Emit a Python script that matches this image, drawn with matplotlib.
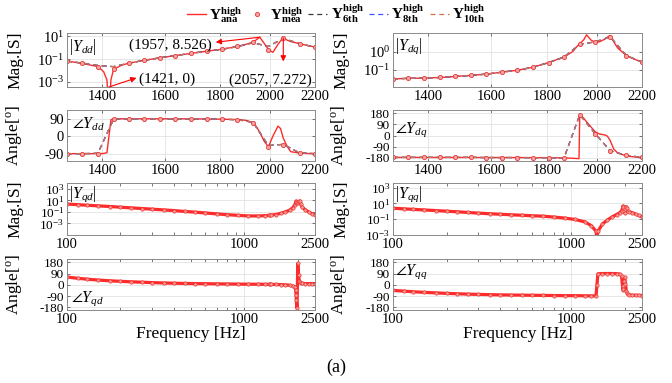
import matplotlib
matplotlib.use('Agg')
import matplotlib.pyplot as plt
import matplotlib.transforms as mtransforms
from matplotlib.ticker import NullLocator, NullFormatter, LogLocator

plt.rcParams['font.family'] = ['Liberation Serif', 'DejaVu Serif']
plt.rcParams['mathtext.fontset'] = 'custom'
plt.rcParams['mathtext.rm'] = 'Liberation Serif'
plt.rcParams['mathtext.it'] = 'Liberation Serif:italic'
plt.rcParams['mathtext.bf'] = 'Liberation Serif:bold'
plt.rcParams['axes.unicode_minus'] = False

# ---- zoomed band 1300-2200 Hz (dd and dq) ----
f_zoom = [1300, 1343, 1388, 1405, 1415, 1421, 1427, 1435, 1460, 1483, 1532, 1583,
          1636, 1691, 1748, 1806, 1866, 1900, 1926, 1929, 1945, 1957, 1975, 1993,
          2012, 2034, 2045, 2057, 2073, 2090, 2129, 2165, 2200]
dd_mag_ana = [0.068, 0.042, 0.022, 0.008, 0.0015, 1e-6, 0.0015, 0.0126, 0.03, 0.045,
              0.08, 0.13, 0.21, 0.32, 0.5, 0.75, 1.3, 2.0, 2.9, 3.2, 5.5, 8.526, 2.5,
              0.7, 0.4, 2.0, 4.0, 7.272, 4.8, 3.5, 2.3, 1.6, 1.15]
dd_ang_ana = [-90, -90, -90, -89, -85, 0, 85, 89, 90, 90, 90, 90, 90, 90, 89, 88, 86,
              82, 72, 70, 45, 20, -25, -55, 0, 52, 40, -10, -51, -80, -87, -89, -90]
dq_mag_ana = [0.030, 0.032, 0.033, 0.034, 0.035, 0.035, 0.035, 0.036, 0.038, 0.041,
              0.047, 0.055, 0.071, 0.091, 0.135, 0.245, 0.5, 1.0, 2.6, 2.8, 4.5, 8.7,
              4.5, 3.3, 3.6, 5.0, 6.5, 8.0, 3.5, 1.6, 0.6, 0.38, 0.26]
dq_ang_ana = [-176, -176, -176, -176, -176, -176, -176, -176, -176, -176, -176, -177,
              -177, -177, -178, -178, -180, -183, -186, 168, 140, 110, 70, 30, 12, 5,
              -5, -40, -110, -140, -165, -172, -175]

f_zoom_mea = [1300, 1343, 1388, 1435, 1483, 1532, 1583, 1636, 1691, 1748, 1806, 1866,
              1929, 1993, 2057, 2129, 2200]
dd_mag_mea = [0.068, 0.042, 0.022, 0.0126, 0.045, 0.08, 0.13, 0.21, 0.32, 0.5, 0.75,
              1.3, 3.2, 0.7, 7.272, 2.3, 1.15]
dd_ang_mea = [-90, -90, -90, 89, 90, 90, 90, 90, 90, 89, 88, 86, 70, -55, -45, -87, -90]
dq_mag_mea = [0.030, 0.032, 0.033, 0.036, 0.041, 0.047, 0.055, 0.071, 0.091, 0.135,
              0.245, 0.5, 2.8, 3.3, 6.5, 0.6, 0.26]
dq_ang_mea = [-176, -176, -176, -176, -176, -176, -177, -177, -177, -178, -178, -180,
              168, 15, -122, -160, -175]

# vector-fitted models (6th, 8th, 10th order) evaluated at the measured points
dd_mag_fit = [0.068, 0.045, 0.028, 0.022, 0.045, 0.08, 0.13, 0.21, 0.32, 0.5, 0.75,
              1.25, 2.8, 1.3, 6.8, 2.3, 1.15]
dd_ang_fit = [-90, -90, -88, 88, 90, 90, 90, 90, 90, 89, 88, 85, 72, -48, -42, -86, -90]
dq_mag_fit = [0.030, 0.032, 0.033, 0.036, 0.041, 0.047, 0.055, 0.071, 0.091, 0.135,
              0.245, 0.5, 2.6, 3.5, 6.8, 0.6, 0.26]
dq_ang_fit = [-176, -176, -176, -176, -176, -176, -177, -177, -177, -178, -178, -180,
              168, 15, -122, -160, -175]

# ---- full band 100-2500 Hz (qd and qq) ----
f_full = [100, 115, 130, 150, 175, 200, 230, 265, 300, 350, 400, 460, 530, 600, 700,
          800, 920, 1050, 1200, 1300, 1380, 1397, 1415, 1500, 1600, 1700, 1800, 1870,
          1920, 1945, 1957, 1962, 1980, 2000, 2020, 2040, 2057, 2080, 2120, 2200, 2300,
          2400, 2500]
qd_mag = [2.3, 1.8, 1.4, 1.1, 0.85, 0.65, 0.5, 0.38, 0.3, 0.22, 0.17, 0.12, 0.09,
          0.065, 0.045, 0.033, 0.025, 0.02, 0.02, 0.022, 0.025, 0.026, 0.027, 0.035,
          0.055, 0.1, 0.2, 0.5, 1.5, 4.0, 7.5, 6.0, 4.5, 4.0, 5.0, 6.5, 7.5, 2.0, 0.6,
          0.25, 0.1, 0.05, 0.03]
qd_ang = [62, 52, 45, 38, 32, 28, 24, 21, 18, 15, 13, 11, 10, 9, 8, 7, 6, 5, 5, 4, 4,
          4, 4, 3, 2, 0, -3, -10, -15, -40, -80, -120, -185, 170, 80, 30, 20, 15, 12,
          10, 10, 10, 10]
qq_mag = [2.5, 2.1, 1.8, 1.5, 1.25, 1.05, 0.88, 0.72, 0.6, 0.5, 0.43, 0.37, 0.32,
          0.28, 0.24, 0.19, 0.14, 0.095, 0.045, 0.015, 0.003, 0.0004, 0.003, 0.025,
          0.08, 0.2, 0.4, 0.65, 1.2, 2.5, 4.8, 3.5, 1.0, 0.6, 2.0, 4.0, 2.5, 1.2, 0.9,
          0.7, 0.45, 0.3, 0.21]
qq_ang = [-44, -50, -55, -60, -64, -68, -71, -74, -76, -78, -80, -81, -82, -83, -84,
          -85, -86, -86, -87, -88, -88, 0, 88, 90, 90, 90, 89, 86, 70, -10, -40, -30,
          30, 60, 10, -45, -65, -75, -80, -82, -83, -84, -85]

zoom_ticks = [1400, 1600, 1800, 2000, 2200]
full_ticks = [100, 1000, 2500]

C_ANA = '#ff2b2b'
C_MEA = '#e53935'
C_6 = '#3a3a3a'
C_8 = '#3f51ff'
C_10 = '#d0734f'

fig = plt.figure(figsize=(6.72, 3.83), dpi=100)

cols = [(0.0997, 0.369), (0.5848, 0.3705)]
rows = [(0.7728, 0.141), (0.5796, 0.133), (0.3864, 0.1358), (0.1906, 0.133)]


def make_ax(r, c):
    x0, w = cols[c]
    y0, h = rows[r]
    ax = fig.add_axes([x0, y0, w, h])
    ax.set_xscale('log')
    ax.tick_params(direction='in', which='both', top=True, right=True,
                   labelsize=10.5, length=2.5, width=0.5, colors='#404040',
                   labelcolor='black', pad=2)
    for s in ax.spines.values():
        s.set_color('#8a8a8a')
        s.set_linewidth(0.7)
    ax.grid(True, which='major', color='#e2e2e2', lw=0.6)
    ax.set_axisbelow(True)
    return ax


def zoom_xaxis(ax):
    ax.set_xlim(1300, 2200)
    ax.xaxis.set_minor_locator(NullLocator())
    ax.set_xticks(zoom_ticks)
    ax.set_xticklabels([str(t) for t in zoom_ticks])


def full_xaxis(ax):
    ax.set_xlim(100, 2500)
    ax.set_xticks(full_ticks)
    ax.set_xticklabels([str(t) for t in full_ticks])
    ax.xaxis.set_minor_locator(LogLocator(subs=range(2, 10)))
    ax.xaxis.set_minor_formatter(NullFormatter())
    ax.tick_params(axis='y', labelsize=9.5)


def zoom_plot(ax, ana, mea, fit):
    h_ana, = ax.plot(f_zoom, ana, color=C_ANA, lw=1.0)
    h6, = ax.plot(f_zoom_mea, fit, color=C_6, lw=0.9, ls=(0, (4, 3)))
    h8, = ax.plot(f_zoom_mea, fit, color=C_8, lw=0.9, ls=(0, (4, 3)))
    h10, = ax.plot(f_zoom_mea, fit, color=C_10, lw=0.9, ls=(0, (4, 3)))
    h_mea, = ax.plot(f_zoom_mea, mea, 'o', ms=3.0, mfc='#f7a3a3', mec=C_MEA, mew=0.6)
    return [h_ana, h_mea, h6, h8, h10]


def full_plot(ax, vals):
    ax.plot(f_full, vals, color=C_10, lw=0.9, ls=(0, (4, 3)))
    ax.plot(f_full, vals, color=C_ANA, lw=2.3)
    ax.plot(f_full, vals, 'o', ms=2.4, mfc='#ff9a9a', mec=C_MEA, mew=0.5)


def ylab(ax, text):
    ax.set_ylabel(text, fontsize=12.5, labelpad=0)
    ax.yaxis.set_label_coords(-0.175, 0.5)


# |Y_dd|
ax = make_ax(0, 0)
handles = zoom_plot(ax, dd_mag_ana, dd_mag_mea, dd_mag_fit)
ax.set_yscale('log')
ax.set_ylim(10 ** -3.45, 10 ** 1.3)
ax.set_yticks([1e-3, 1e-1, 1e1])
ax.yaxis.set_minor_locator(NullLocator())
zoom_xaxis(ax)
ylab(ax, 'Mag.[S]')
ax.text(0.01, 0.93, r'$|Y_{dd}|$', transform=ax.transAxes, fontsize=11.5, va='top')
arr = dict(arrowstyle='-|>', color='red', lw=0.8, mutation_scale=8, shrinkA=0, shrinkB=0)
ax.annotate('', xy=(0.6, 0.83), xycoords='axes fraction',
            xytext=(1957, 8.526), textcoords='data', arrowprops=arr)
ax.text(0.415, 0.78, '(1957, 8.526)', transform=ax.transAxes, fontsize=11,
        ha='center', va='center')
bt = mtransforms.blended_transform_factory(ax.transData, ax.transAxes)
ax.annotate('', xy=(0.28, 0.17), xycoords='axes fraction',
            xytext=(1421, 0.0), textcoords=bt, arrowprops=arr)
ax.text(0.405, 0.15, '(1421, 0)', transform=ax.transAxes, fontsize=11,
        ha='center', va='center')
ax.annotate('', xy=(2057, 10 ** -1.2), xycoords='data',
            xytext=(2057, 7.272), textcoords='data', arrowprops=arr)
ax.text(0.82, 0.13, '(2057, 7.272)', transform=ax.transAxes, fontsize=11,
        ha='center', va='center')

# |Y_dq|
ax = make_ax(0, 1)
zoom_plot(ax, dq_mag_ana, dq_mag_mea, dq_mag_fit)
ax.set_yscale('log')
ax.set_ylim(0.0105, 11)
ax.set_yticks([1e-1, 1e0])
ax.yaxis.set_minor_locator(NullLocator())
zoom_xaxis(ax)
ylab(ax, 'Mag.[S]')
ax.text(0.01, 0.93, r'$|Y_{dq}|$', transform=ax.transAxes, fontsize=11.5, va='top')

# angle Y_dd
ax = make_ax(1, 0)
zoom_plot(ax, dd_ang_ana, dd_ang_mea, dd_ang_fit)
ax.set_ylim(-128, 135)
ax.set_yticks([-90, 0, 90])
zoom_xaxis(ax)
ylab(ax, r'Angle[$^{\mathrm{o}}$]')
ax.text(0.02, 0.9, r'$\angle Y_{dd}$', transform=ax.transAxes, fontsize=11.5, va='top')

# angle Y_dq
ax = make_ax(1, 1)
zoom_plot(ax, dq_ang_ana, dq_ang_mea, dq_ang_fit)
ax.set_ylim(-205, 205)
ax.set_yticks([-180, -90, 0, 90, 180])
ax.tick_params(axis='y', labelsize=9.5)
zoom_xaxis(ax)
ylab(ax, r'Angle[$^{\mathrm{o}}$]')
ax.text(0.01, 0.8, r'$\angle Y_{dq}$', transform=ax.transAxes, fontsize=11.5, va='top')

# |Y_qd|
ax = make_ax(2, 0)
full_plot(ax, qd_mag)
ax.set_yscale('log')
ax.set_ylim(1e-5, 1e4)
ax.set_yticks([1e-3, 1e-1, 1e1, 1e3])
ax.yaxis.set_minor_locator(NullLocator())
full_xaxis(ax)
ylab(ax, 'Mag.[S]')
ax.text(0.01, 0.97, r'$|Y_{qd}|$', transform=ax.transAxes, fontsize=11.5, va='top')

# |Y_qq|
ax = make_ax(2, 1)
full_plot(ax, qq_mag)
ax.set_yscale('log')
ax.set_ylim(1e-3, 10 ** 3.6)
ax.set_yticks([1e-3, 1e-1, 1e1, 1e3])
ax.yaxis.set_minor_locator(NullLocator())
full_xaxis(ax)
ylab(ax, 'Mag.[S]')
ax.text(0.01, 0.97, r'$|Y_{qq}|$', transform=ax.transAxes, fontsize=11.5, va='top')

# angle Y_qd
ax = make_ax(3, 0)
full_plot(ax, qd_ang)
ax.set_ylim(-200, 205)
ax.set_yticks([-180, -90, 0, 90, 180])
full_xaxis(ax)
ylab(ax, r'Angle[$^{\mathrm{o}}$]')
ax.set_xlabel('Frequency [Hz]', fontsize=12.5, labelpad=0)
ax.text(0.015, 0.03, r'$\angle Y_{qd}$', transform=ax.transAxes, fontsize=11.5, va='bottom')

# angle Y_qq
ax = make_ax(3, 1)
full_plot(ax, qq_ang)
ax.set_ylim(-200, 205)
ax.set_yticks([-180, -90, 0, 90, 180])
full_xaxis(ax)
ylab(ax, r'Angle[$^{\mathrm{o}}$]')
ax.set_xlabel('Frequency [Hz]', fontsize=12.5, labelpad=0)
ax.text(0.01, 0.93, r'$\angle Y_{qq}$', transform=ax.transAxes, fontsize=11.5, va='top')

labels = [r'$\mathbf{Y}^{\mathbf{high}}_{\mathbf{ana}}$',
          r'$\mathbf{Y}^{\mathbf{high}}_{\mathbf{mea}}$',
          r'$\mathbf{Y}^{\mathbf{high}}_{\mathbf{6th}}$',
          r'$\mathbf{Y}^{\mathbf{high}}_{\mathbf{8th}}$',
          r'$\mathbf{Y}^{\mathbf{high}}_{\mathbf{10th}}$']
fig.legend(handles, labels, loc='center', bbox_to_anchor=(0.5, 0.963), ncol=5,
           frameon=False, fontsize=11, handlelength=1.25, handletextpad=0.2,
           columnspacing=0.35, borderaxespad=0)

fig.text(0.5, 0.042, '(a)', ha='center', va='center', fontsize=13)

fig.savefig('out.png', dpi=100)
